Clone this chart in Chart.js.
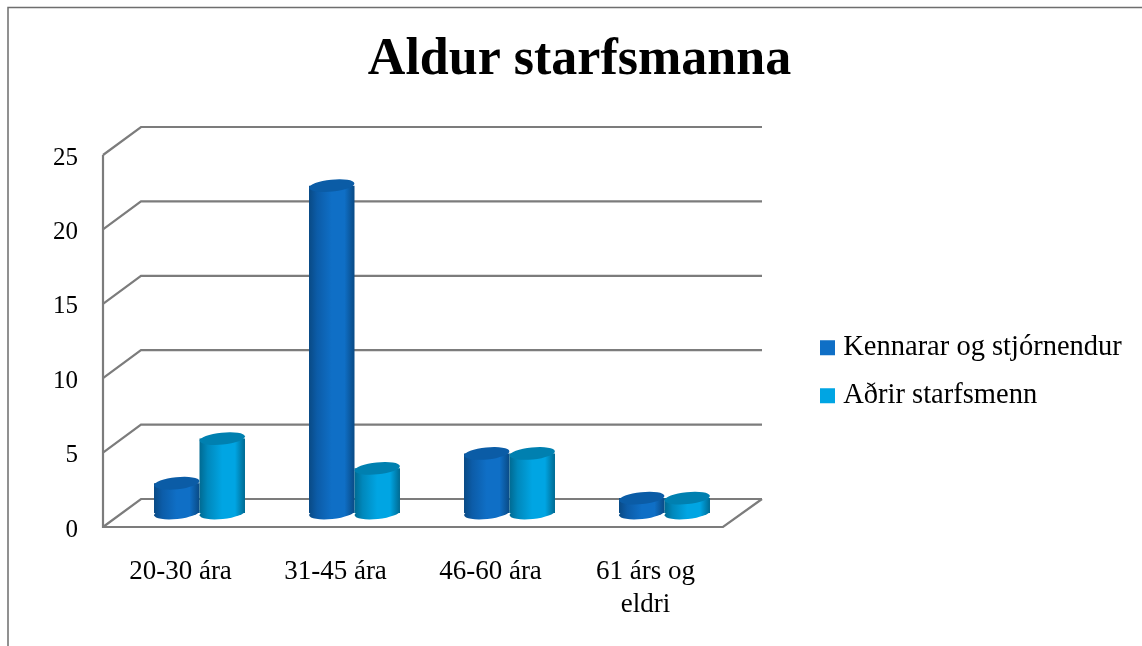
<!DOCTYPE html>
<html>
<head>
<meta charset="utf-8">
<style>html,body{margin:0;padding:0;background:#fff}#w{width:1142px;height:646px}canvas{display:block}</style>
<script src="https://cdn.jsdelivr.net/npm/chart.js@4"></script>
</head>
<body>
<div id="w"><canvas id="c" width="1142" height="646"></canvas></div>
<script>
const categories = ["20-30 ára", "31-45 ára", "46-60 ára", ["61 árs og", "eldri"]];
const seriesNames = ["Kennarar og stjórnendur", "Aðrir starfsmenn"];
const kennarar = [2, 22, 4, 1];
const adrir = [5, 3, 4, 1];
const chartTitle = "Aldur starfsmanna";

const FONT = "'Liberation Serif', serif";
const DEPTH_X = 38, DEPTH_Y = 28;
const palettes = [
  {base: "#0F6FC6", edge: "#0C5CA8", top: "#0B5CA6", dark: "#094A85"},
  {base: "#00A5E3", edge: "#0088BC", top: "#0080B0", dark: "#006A92"}
];

function barGradient(ctx, x0, x1, p) {
  const g = ctx.createLinearGradient(x0, 0, x1, 0);
  g.addColorStop(0, p.dark);
  g.addColorStop(0.18, p.edge);
  g.addColorStop(0.5, p.base);
  g.addColorStop(0.78, p.base);
  g.addColorStop(1, p.dark);
  return g;
}

const framePlugin = {
  id: "frame3d",
  beforeDraw(chart) {
    const y = chart.scales.y, ctx = chart.ctx;
    if (!y._shifted) {
      y._shifted = true;
      const orig = y.drawLabels;
      y.drawLabels = function (a) {
        ctx.save();
        ctx.translate(0, 3);
        orig.call(this, a);
        ctx.restore();
      };
    }
  },
  beforeDatasetsDraw(chart) {
    const ctx = chart.ctx, y = chart.scales.y, a = chart.chartArea;
    ctx.save();
    ctx.strokeStyle = "#6E6E6E";
    ctx.lineWidth = 1.5;
    ctx.beginPath();
    ctx.moveTo(8, 646); ctx.lineTo(8, 7.5); ctx.lineTo(1142, 7.5);
    ctx.stroke();
    ctx.strokeStyle = "#7C7C7C";
    ctx.lineWidth = 2.2;
    ctx.lineJoin = "miter";
    y.ticks.forEach(t => {
      const py = y.getPixelForValue(t.value);
      ctx.beginPath();
      ctx.moveTo(a.left, py);
      ctx.lineTo(a.left + DEPTH_X, py - DEPTH_Y);
      ctx.lineTo(a.right + DEPTH_X + 1, py - DEPTH_Y);
      ctx.stroke();
    });
    ctx.beginPath();
    ctx.moveTo(a.left, a.top);
    ctx.lineTo(a.left, a.bottom);
    ctx.lineTo(a.right, a.bottom);
    ctx.lineTo(a.right + DEPTH_X + 1, a.bottom - DEPTH_Y);
    ctx.stroke();
    ctx.restore();

    // cylinders: library bars, shifted to the middle of the depth, light series on top
    ctx.save();
    ctx.translate(DEPTH_X / 2, -DEPTH_Y / 2);
    [0, 1].forEach(i => {
      const meta = chart.getDatasetMeta(i), p = palettes[i];
      meta.data.forEach(b => {
        const rx = b.width / 2;
        const g = barGradient(ctx, b.x - rx, b.x + rx, p);
        b.options = Object.assign({}, b.options, {backgroundColor: g, borderWidth: 0});
        ctx.fillStyle = g;
        ctx.beginPath();
        ctx.ellipse(b.x, b.base, rx, 6, -0.1, 0, Math.PI * 2);
        ctx.fill();
      });
      meta.controller.draw();
      meta.data.forEach(b => {
        const rx = b.width / 2;
        ctx.fillStyle = p.top;
        ctx.beginPath();
        ctx.ellipse(b.x, b.y, rx, 6, -0.1, 0, Math.PI * 2);
        ctx.fill();
      });
    });
    ctx.restore();
  },
  beforeDatasetDraw() { return false; },
  afterLayout(chart) {
    const l = chart.legend, t = chart.titleBlock;
    const w = l.width, h = l.height;
    l.left = 806.5; l.right = l.left + w;
    l.top = 314; l.bottom = l.top + h;
    t.left += 218; t.right += 218;
  }
};

const chart = new Chart(document.getElementById("c"), {
  type: "bar",
  data: {
    labels: categories,
    datasets: [
      {label: seriesNames[0], data: kennarar, backgroundColor: palettes[0].base},
      {label: seriesNames[1], data: adrir, backgroundColor: palettes[1].base}
    ]
  },
  options: {
    responsive: false,
    animation: false,
    events: [],
    layout: {padding: {left: 0, top: 0, right: 419, bottom: 0}},
    datasets: {bar: {categoryPercentage: 0.587, barPercentage: 1}},
    scales: {
      x: {
        grid: {display: false},
        border: {display: false},
        afterFit(s) { s.height = 119; },
        ticks: {
          autoSkip: false, maxRotation: 0, minRotation: 0, padding: 21, color: "#000",
          font: {family: FONT, size: 27, lineHeight: 1.2}
        }
      },
      y: {
        min: 0, max: 25,
        grid: {display: false},
        border: {display: false},
        afterFit(s) { s.width = 103; },
        ticks: {stepSize: 5, padding: 17, color: "#000", font: {family: FONT, size: 25}}
      }
    },
    plugins: {
      tooltip: {enabled: false},
      title: {
        display: true, text: chartTitle, color: "#000",
        font: {family: FONT, size: 52, weight: "bold", lineHeight: 1},
        padding: {top: 35, bottom: 68}
      },
      legend: {
        position: "chartArea", align: "start",
        labels: {
          color: "#000", boxWidth: 3, boxHeight: 3, padding: 19.5,
          font: {family: FONT, size: 28.5},
          generateLabels: () => seriesNames.map((n, i) => ({
            text: n, fillStyle: palettes[i].base, strokeStyle: palettes[i].base,
            lineWidth: 12, datasetIndex: i, hidden: false
          }))
        }
      }
    }
  },
  plugins: [framePlugin]
});
</script>
</body>
</html>
